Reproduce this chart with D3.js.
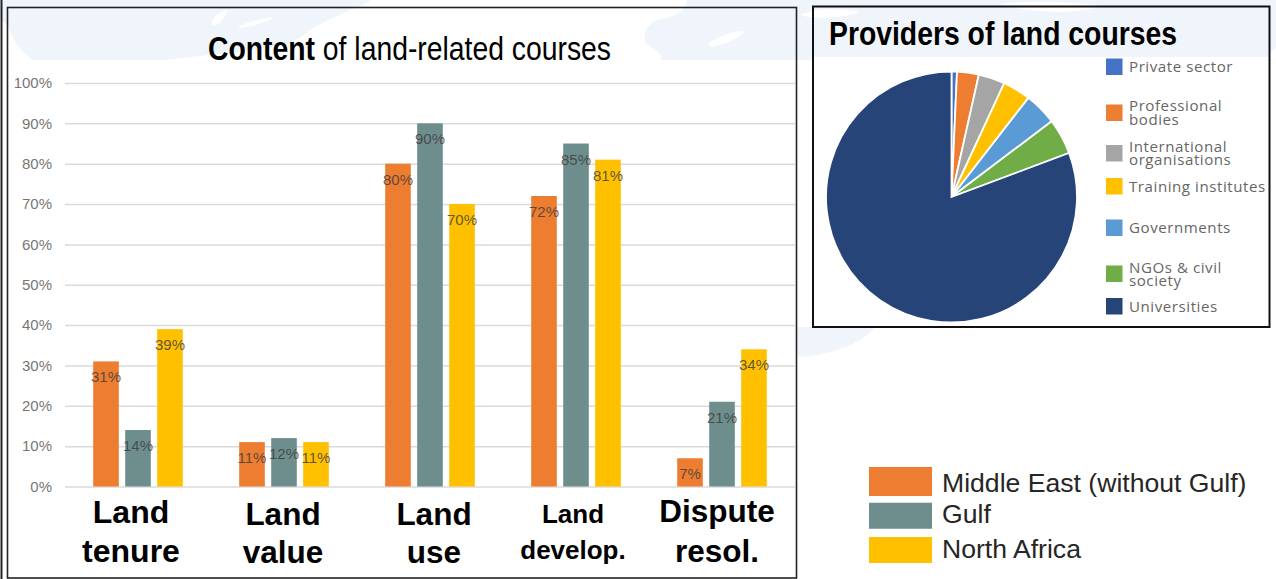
<!DOCTYPE html>
<html>
<head>
<meta charset="utf-8">
<script src="https://cdn.jsdelivr.net/npm/d3@7"></script>
<style>
  html, body { margin: 0; padding: 0; background: #fff; }
  svg { display: block; }
  text { font-family: "Liberation Sans", Arial, sans-serif; }
</style>
</head>
<body>
<svg id="chart" width="1276" height="579"></svg>
<script>
// Course content by region
const categories = ["Land tenure", "Land value", "Land use", "Land develop.", "Dispute resol."];
const regions = ["Middle East (without Gulf)", "Gulf", "North Africa"];
const regionColors = ["#ed7d31", "#6e8e8e", "#ffc000"];
const middleEast = [31, 11, 80, 72, 7];
const gulf = [14, 12, 90, 85, 21];
const northAfrica = [39, 11, 70, 81, 34];
const yTicks = [0, 10, 20, 30, 40, 50, 60, 70, 80, 90, 100];

// Course providers, in percent of all courses
const providers = ["Private sector", "Professional bodies", "International organisations",
  "Training institutes", "Governments", "NGOs & civil society", "Universities"];
const providerLines = [["Private sector"], ["Professional", "bodies"], ["International", "organisations"],
  ["Training institutes"], ["Governments"], ["NGOs & civil", "society"], ["Universities"]];
const providerShares = [0.7, 2.8, 3.4, 3.6, 4.2, 4.6, 80.7];
const providerColors = ["#4472c4", "#ed7d31", "#a5a5a5", "#ffc000", "#5b9bd5", "#70ad47", "#264478"];

const svg = d3.select("#chart");
const paleBlue = "#f0f4fb";

// Faint world map behind the slide
const backdrop = svg.append("g");
[
  "M0,0 H372 C355,10 320,20 300,38 C280,50 200,55 165,60 H32 C20,50 12,40 8,25 L0,20 Z",
  "M687,0 H1276 V48 L1270,52 V60 H660 C665,52 650,48 645,42 C643,30 650,20 665,18 C675,16 685,12 687,0 Z",
  "M797,327 H875 C860,345 830,355 800,357 L797,355 Z",
  "M797,48 H813 V60 H797 Z"
].forEach(d => backdrop.append("path").attr("d", d).attr("fill", paleBlue));
[
  "M212,22 C215,14 222,10 228,10 C226,16 220,24 214,26 Z",
  "M238,27 C248,22 262,18 274,17 C268,22 250,27 240,28 Z",
  "M708,43 C720,36 735,30 745,31 C740,38 722,46 710,47 Z",
  "M800,15 C815,8 840,8 860,12 C845,18 815,20 800,15 Z",
  "M1000,4 C1040,0 1075,2 1100,6 C1085,14 1030,14 1000,4 Z"
].forEach(d => backdrop.append("path").attr("d", d).attr("fill", "#fff"));

// Panel backgrounds below the map strip
svg.append("rect").attr("x", 8).attr("y", 60).attr("width", 788).attr("height", 519).attr("fill", "#fff");
svg.append("rect").attr("x", 813).attr("y", 57).attr("width", 456).attr("height", 270).attr("fill", "#fff");

// Panel frames
svg.append("line").attr("x1", 1.5).attr("x2", 1.5).attr("y1", 0).attr("y2", 579).attr("stroke", "#222").attr("stroke-width", 2);
svg.append("rect").attr("x", 7.5).attr("y", 7.5).attr("width", 789).attr("height", 570.5)
  .attr("fill", "none").attr("stroke", "#222").attr("stroke-width", 1.6);
svg.append("rect").attr("x", 813).attr("y", 6.5).attr("width", 456.5).attr("height", 320.5)
  .attr("fill", "none").attr("stroke", "#111").attr("stroke-width", 2);

// Grouped bars
const x0 = d3.scaleBand().domain(categories).range([65, 795]);
const x1 = d3.scaleBand().domain(regions).range([25, 121]).paddingInner(0.2).paddingOuter(0.1);
const y = d3.scaleLinear().domain([0, 100]).range([486.5, 83]);
const seriesValues = [middleEast, gulf, northAfrica];

const yAxis = d3.axisLeft(y).tickValues(yTicks).tickFormat(d => d + "%").tickSize(-730).tickPadding(13);
const axisG = svg.append("g").attr("transform", "translate(65,0)").call(yAxis);
axisG.select(".domain").remove();
axisG.selectAll(".tick line").attr("stroke", "#dadada").attr("stroke-width", 1.5);
axisG.selectAll(".tick text").attr("fill", "#767676").attr("font-size", 15)
  .style("font-family", "'Liberation Sans', Arial, sans-serif");

seriesValues.forEach((values, s) => {
  const g = svg.append("g");
  g.selectAll("rect").data(values).join("rect")
    .attr("x", (d, i) => x0(categories[i]) + x1(regions[s]))
    .attr("y", d => y(d))
    .attr("width", x1.bandwidth())
    .attr("height", d => y(0) - y(d))
    .attr("fill", regionColors[s]);
  g.selectAll("text").data(values).join("text")
    .attr("x", (d, i) => x0(categories[i]) + x1(regions[s]) + x1.bandwidth() / 2)
    .attr("y", d => y(d) + 21)
    .attr("text-anchor", "middle")
    .attr("font-size", 15)
    .attr("fill", "#3c3c3c")
    .attr("fill-opacity", 0.82)
    .text(d => d + "%");
});

// Two-line category captions under the groups
const captionNudge = [-7, -1, 4, -3, -5];
const captionSize = [32, 31.5, 31.5, 26, 31.5];
const captionBaselines = [[523, 562], [525, 563], [525, 563], [523, 559], [522, 562]];
categories.forEach((c, i) => {
  c.split(" ").forEach((word, k) => {
    svg.append("text")
      .attr("x", x0(c) + x0.bandwidth() / 2 + captionNudge[i])
      .attr("y", captionBaselines[i][k])
      .attr("text-anchor", "middle")
      .attr("font-size", captionSize[i])
      .attr("font-weight", 700)
      .attr("fill", "#000")
      .text(word);
  });
});

// Panel titles
const leftTitle = svg.append("text").attr("x", 208).attr("y", 60).attr("font-size", 33)
  .attr("fill", "#000").attr("textLength", 403).attr("lengthAdjust", "spacingAndGlyphs");
leftTitle.append("tspan").attr("font-weight", 700).text("Content");
leftTitle.append("tspan").text(" of land-related courses");

svg.append("text").attr("x", 829).attr("y", 45).attr("font-size", 33).attr("font-weight", 700)
  .attr("fill", "#000").attr("textLength", 348).attr("lengthAdjust", "spacingAndGlyphs")
  .text("Providers of land courses");

// Region legend
const regionRows = d3.scalePoint().domain(regions).range([481.5, 550]);
const regionTextOffset = [10.5, 7, 8];
const regionLegend = svg.append("g");
regions.forEach((r, i) => {
  regionLegend.append("rect").attr("x", 869).attr("y", regionRows(r) - (i === 0 ? 14.5 : 13))
    .attr("width", 63).attr("height", i === 0 ? 29 : 26).attr("fill", regionColors[i]);
  regionLegend.append("text").attr("x", 942).attr("y", regionRows(r) + regionTextOffset[i])
    .attr("font-size", 26.6).attr("fill", "#262626").text(r);
});

// Providers pie
const pie = d3.pie().sort(null).value(d => d);
const arc = d3.arc().innerRadius(0).outerRadius(125.5);
svg.append("g").attr("transform", "translate(951.5,197)")
  .selectAll("path").data(pie(providerShares)).join("path")
  .attr("d", arc)
  .attr("fill", (d, i) => providerColors[i])
  .attr("stroke", "#fff").attr("stroke-width", 1.8);

// Providers legend, rows spaced as in the slide
const providerRows = [67, 113, 153.5, 186.5, 228, 274, 306.5];
const providerLeading = [0, 14.5, 13.5, 0, 0, 13, 0];
const providerLegend = svg.append("g");
providers.forEach((p, i) => {
  providerLegend.append("rect").attr("x", 1106).attr("y", providerRows[i] - 8.5)
    .attr("width", 16.5).attr("height", 16.5).attr("fill", providerColors[i]);
  const lines = providerLines[i];
  const label = providerLegend.append("text")
    .attr("x", 1129)
    .attr("y", providerRows[i] + 5 - (lines.length - 1) * providerLeading[i] / 2)
    .attr("font-size", 15.1)
    .attr("letter-spacing", 0.55)
    .attr("fill", "#666")
    .style("font-family", "'Open Sans', sans-serif");
  lines.forEach((line, k) => {
    label.append("tspan").attr("x", 1129).attr("dy", k ? providerLeading[i] : 0).text(line);
  });
});
</script>
</body>
</html>
